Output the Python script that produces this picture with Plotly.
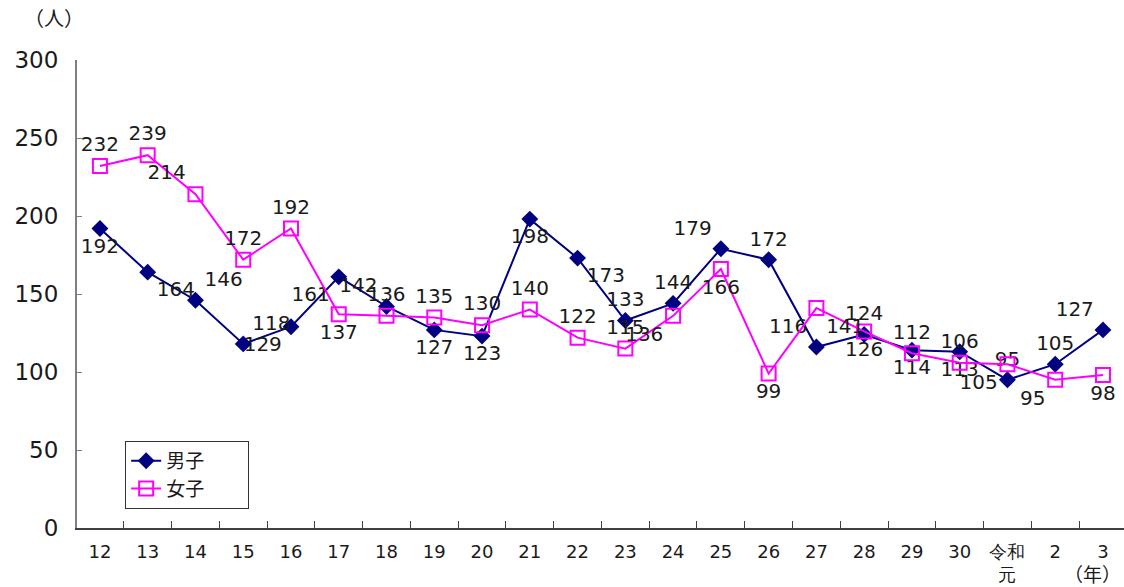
import plotly.graph_objects as go

# 年（平成12年〜令和3年）
years = ["12", "13", "14", "15", "16", "17", "18", "19", "20", "21", "22",
         "23", "24", "25", "26", "27", "28", "29", "30", "令和<br>元", "2", "3"]

# 人数
boys = [192, 164, 146, 118, 129, 161, 142, 127, 123, 198, 173,
        133, 144, 179, 172, 116, 124, 114, 113, 95, 105, 127]
girls = [232, 239, 214, 172, 192, 137, 136, 135, 130, 140, 122,
         115, 136, 166, 99, 141, 126, 112, 106, 105, 95, 98]

# data label placement for each point
boys_pos = ["bottom center", "bottom right", "top right", "top right", "bottom left",
            "bottom left", "top left", "bottom center", "bottom center", "bottom center",
            "bottom right", "top center", "top center", "top left", "top center",
            "top left", "top center", "bottom center", "bottom center", "top center",
            "top center", "top left"]
girls_pos = ["top center", "top center", "top left", "top center", "top center",
             "bottom center", "top center", "top center", "top center", "top center",
             "top center", "top center", "bottom left", "bottom center", "bottom center",
             "bottom right", "bottom center", "top center", "top center", "bottom left",
             "bottom left", "bottom center"]

NUM_FONT = "DejaVu Sans"
JP_FONT = "Noto Sans CJK JP"
INK = "#1a1a1a"

fig = go.Figure()

fig.add_trace(go.Scatter(
    x=years, y=boys, name="男子　　", mode="lines+markers+text",
    line=dict(color="#000080", width=2),
    marker=dict(symbol="diamond", size=13, color="#000080"),
    text=[str(v) for v in boys], textposition=boys_pos,
    textfont=dict(family=NUM_FONT, size=20, color=INK),
))

fig.add_trace(go.Scatter(
    x=years, y=girls, name="女子　　", mode="lines+markers+text",
    line=dict(color="#FF00FF", width=2),
    marker=dict(symbol="square-open", size=14, color="#FF00FF",
                line=dict(width=2, color="#FF00FF")),
    text=[str(v) for v in girls], textposition=girls_pos,
    textfont=dict(family=NUM_FONT, size=20, color=INK),
))

fig.update_layout(
    width=1124, height=587,
    margin=dict(l=77, r=0, t=60, b=59),
    paper_bgcolor="white", plot_bgcolor="white",
    font=dict(family=JP_FONT, color=INK),
    showlegend=True,
    legend=dict(
        x=0.046, y=0.186, xanchor="left", yanchor="top",
        bordercolor="#333333", borderwidth=1, bgcolor="white",
        font=dict(family=JP_FONT, size=19, color=INK),
        tracegroupgap=0,
    ),
    xaxis=dict(
        type="category", range=[-0.48, 21.44],
        showline=True, linecolor="#404040", linewidth=2,
        ticks="inside", ticklen=7, tickwidth=1, tickcolor="#404040",
        tickson="boundaries", showgrid=False, zeroline=False,
        tickfont=dict(family=NUM_FONT, size=18, color=INK),
        tickangle=0, ticklabelstandoff=6,
    ),
    yaxis=dict(
        range=[0, 300], tickvals=[0, 50, 100, 150, 200, 250, 300],
        showline=True, linecolor="#7f7f7f", linewidth=2,
        ticks="inside", ticklen=5, tickwidth=1, tickcolor="#7f7f7f",
        showgrid=False, zeroline=False,
        tickfont=dict(family=NUM_FONT, size=23, color=INK),
        ticklabelstandoff=12,
    ),
    annotations=[
        dict(text="（人）", xref="paper", yref="paper", x=-0.022, y=1.09,
             xanchor="center", yanchor="middle",
             showarrow=False, font=dict(family=JP_FONT, size=20, color=INK)),
        dict(text="（年）", xref="paper", yref="paper", x=0.97, y=-0.098,
             xanchor="center", yanchor="middle",
             showarrow=False, font=dict(family=JP_FONT, size=19, color=INK)),
    ],
)

fig.write_html("out.html")
